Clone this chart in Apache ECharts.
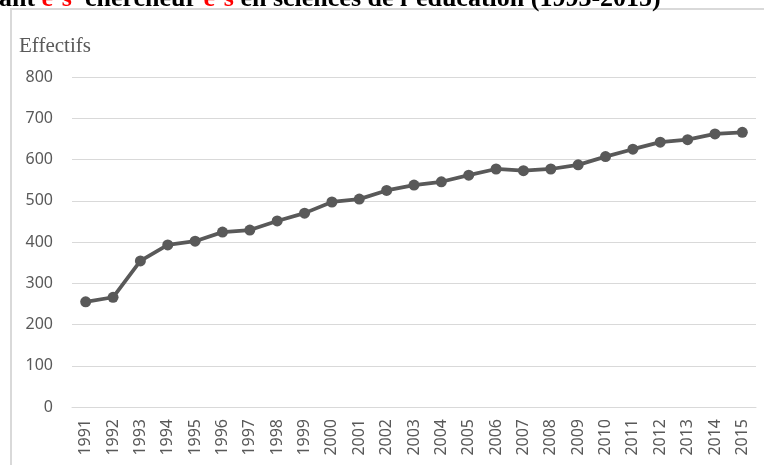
<!DOCTYPE html>
<html><head><meta charset="utf-8">
<script src="https://cdn.jsdelivr.net/npm/echarts@6/dist/echarts.min.js"></script>
<style>html,body{margin:0;padding:0;background:#fff}#c{width:764px;height:465px}</style>
</head><body><div id="c"></div>
<script>
const years = ['1991','1992','1993','1994','1995','1996','1997','1998','1999','2000','2001','2002','2003','2004','2005','2006','2007','2008','2009','2010','2011','2012','2013','2014','2015'];
const effectifs = [255,266,354,393,402,424,429,451,470,497,504,525,538,546,562,577,573,577,587,607,625,642,648,662,666];
const yTicks = [0,100,200,300,400,500,600,700,800];
const yAxisName = 'Effectifs';

const titleRich = {
  b:{fontFamily:'Liberation Serif', fontWeight:'bold', fontSize:26, fill:'#000'},
  r:{fontFamily:'Liberation Serif', fontWeight:'bold', fontSize:26, fill:'#ff0000'}
};
const chart = echarts.init(document.getElementById('c'), null, {renderer:'canvas'});
chart.setOption({
  animation:false,
  graphic:[
    {type:'rect', shape:{x:11,y:9,width:800,height:500}, style:{fill:'none', stroke:'#d9d9d9', lineWidth:2}, z:-1},
    {type:'text', x:0, y:12, style:{
      text:'{b|Évolution des effectifs des enseign}', align:'right', verticalAlign:'bottom', rich:titleRich}},
    {type:'text', x:-1, y:12, style:{
      text:'{b|ant }{r|e·s}{b|  chercheur }{r|e·s}{b| en sciences de l\u2019éducation (1993-2015)}',
      align:'left', verticalAlign:'bottom', rich:titleRich}},
    {type:'text', x:19, y:46, style:{text:yAxisName, fontFamily:'Liberation Serif', fontSize:21, fill:'#595959', verticalAlign:'middle'}}
  ],
  grid:{left:72, right:8, top:77, bottom:58, containLabel:false},
  xAxis:{type:'category', data:years, boundaryGap:true,
    axisLine:{show:true, lineStyle:{color:'#d9d9d9'}}, axisTick:{show:false},
    axisLabel:{rotate:90, interval:0, margin:12, color:'#595959', fontSize:16, fontFamily:'Noto Sans'}},
  yAxis:{type:'value', min:yTicks[0], max:yTicks[yTicks.length-1], interval:100,
    axisLine:{show:false}, axisTick:{show:false},
    splitLine:{lineStyle:{color:'#d9d9d9', width:1}},
    axisLabel:{margin:19, color:'#595959', fontSize:16, fontFamily:'Noto Sans'}},
  series:[{type:'line', data:effectifs, symbol:'circle', symbolSize:11,
    lineStyle:{color:'#595959', width:3.75}, itemStyle:{color:'#595959'}}]
});
</script></body></html>
